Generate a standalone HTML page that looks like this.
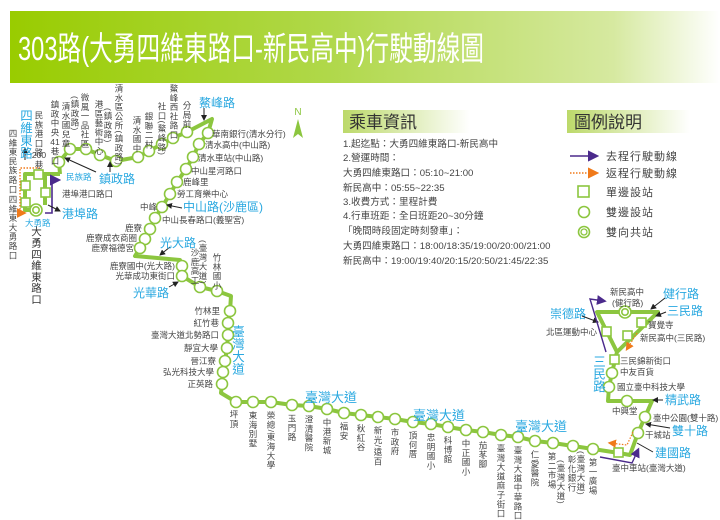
<!DOCTYPE html>
<html><head><meta charset="utf-8">
<style>
html,body{margin:0;padding:0;background:#fff;}
svg{display:block;font-family:"Liberation Sans","Noto Sans CJK TC",sans-serif;}
.s{font-size:8.5px;fill:#444;}
.v{writing-mode:vertical-rl;font-size:8.5px;fill:#444;letter-spacing:0.8px;}
.b{font-size:12px;fill:#29a8e0;}
.bv{writing-mode:vertical-rl;font-size:12.5px;fill:#29a8e0;}
.i{font-size:9.6px;fill:#444;}
.l{font-size:11px;fill:#444;letter-spacing:1px;}
</style></head><body>
<svg width="720" height="520" viewBox="0 0 720 520" xmlns="http://www.w3.org/2000/svg">
<defs>
<linearGradient id="hg" x1="0" x2="1"><stop offset="0" stop-color="#99cc00"/><stop offset="0.45" stop-color="#b0d84a"/><stop offset="0.85" stop-color="#d6e9a0"/><stop offset="1" stop-color="#fff"/></linearGradient>
<linearGradient id="bg2" x1="0" x2="1"><stop offset="0" stop-color="#bcd96a"/><stop offset="1" stop-color="#fff"/></linearGradient>
<marker id="ak" markerWidth="6" markerHeight="6" refX="5" refY="3" orient="auto"><path d="M0,0L6,3L0,6z" fill="#222"/></marker>
<marker id="ap" markerWidth="7" markerHeight="7" refX="5" refY="3.5" orient="auto"><path d="M0,0L7,3.5L0,7z" fill="#4b2a8c"/></marker>
<marker id="ao" markerWidth="7" markerHeight="7" refX="5" refY="3.5" orient="auto"><path d="M0,0L7,3.5L0,7z" fill="#f07a1a"/></marker>
</defs>
<rect x="0" y="0" width="720" height="520" fill="#fff"/>
<rect x="10" y="11" width="710" height="72" fill="url(#hg)"/>
<text x="18" y="60" font-size="33" fill="#fff" textLength="466" lengthAdjust="spacingAndGlyphs">303路(大勇四維東路口-新民高中)行駛動線圖</text>

<text x="298" y="115" font-size="10" fill="#8cc63f" text-anchor="middle">N</text>
<path d="M298,119 L303,138 L298,134 L293,138z" fill="#8cc63f"/>

<rect x="343" y="110" width="127" height="23" fill="url(#bg2)"/>
<text x="349" y="128" font-size="17" fill="#333">乘車資訊</text>
<text class="i" x="343" y="147">1.起迄點：大勇四維東路口-新民高中</text>
<text class="i" x="343" y="161">2.營運時間：</text>
<text class="i" x="343" y="176">大勇四維東路口：05:10~21:00</text>
<text class="i" x="343" y="191">新民高中：05:55~22:35</text>
<text class="i" x="343" y="205">3.收費方式：里程計費</text>
<text class="i" x="343" y="219">4.行車班距：全日班距20~30分鐘</text>
<text class="i" x="343" y="234">「晚間時段固定時刻發車」：</text>
<text class="i" x="343" y="249">大勇四維東路口：18:00/18:35/19:00/20:00/21:00</text>
<text class="i" x="343" y="264">新民高中：19:00/19:40/20:15/20:50/21:45/22:35</text>

<rect x="567" y="110" width="123" height="23" fill="url(#bg2)"/>
<text x="574" y="128" font-size="17" fill="#333">圖例說明</text>
<line x1="570" y1="156" x2="596" y2="156" stroke="#4b2a8c" stroke-width="1.6" marker-end="url(#ap)"/>
<text class="l" x="606" y="160">去程行駛動線</text>
<line x1="570" y1="173" x2="596" y2="173" stroke="#f07a1a" stroke-width="1.6" stroke-dasharray="1.5,1.5" marker-end="url(#ao)"/>
<text class="l" x="606" y="177">返程行駛動線</text>
<rect x="578" y="186" width="11" height="11" fill="#fff" stroke="#8cc63f" stroke-width="1.6"/>
<text class="l" x="606" y="196">單邊設站</text>
<circle cx="584" cy="212" r="5.5" fill="#fff" stroke="#8cc63f" stroke-width="1.6"/>
<text class="l" x="606" y="216">雙邊設站</text>
<circle cx="584" cy="232" r="5.5" fill="#fff" stroke="#8cc63f" stroke-width="1.6"/>
<circle cx="584" cy="232" r="3" fill="#fff" stroke="#8cc63f" stroke-width="1.3"/>
<text class="l" x="606" y="236">雙向共站</text>

<g fill="none" stroke="#8cc63f" stroke-width="4" stroke-linejoin="round">
<path d="M36,210 L25,210 L25,174 L60,174 M45,174 L45,205 M60,174 L59,162"/>
<polyline points="59,162 70,149 86,149 100,155 116,161 138,157 149,151 162,144 173,138 187,132 212,119 208,133 199,144 193,157 186,169 177,182 170,194 162,207 155,218 150,229 145,239 140,248 135,256 180,260 182,266 182,276 200,287 217,291 231,296 230,311 228,323 228,335 227,348 225,361 223,372 222,384 221,393 236,402 253,402 271,402 292,405 309,406 327,409 344,413 361,415 378,417 395,419 413,422 431,424 448,427 466,430 483,432 501,435 518,437 535,441 553,443 573,446 593,449 619,453 630,455 638,433 645,417 652,401 608,401 609,387 612,373 615,360 617,352 597,312 658,312 617,352"/>
</g>

<g fill="#fff" stroke="#8cc63f" stroke-width="1.6">
<circle cx="59" cy="162" r="5.5"/><circle cx="70" cy="149" r="5.5"/><circle cx="86" cy="149" r="5.5"/><circle cx="100" cy="155" r="5.5"/><circle cx="116" cy="161" r="5.5"/><circle cx="138" cy="157" r="5.5"/><circle cx="149" cy="151" r="5.5"/><circle cx="162" cy="144" r="5.5"/><circle cx="173" cy="138" r="5.5"/><circle cx="187" cy="132" r="5.5"/>
<circle cx="208" cy="133" r="5.5"/><circle cx="199" cy="144" r="5.5"/><circle cx="193" cy="157" r="5.5"/><circle cx="186" cy="169" r="5.5"/><circle cx="177" cy="182" r="5.5"/><circle cx="170" cy="194" r="5.5"/><circle cx="162" cy="207" r="5.5"/><circle cx="155" cy="218" r="5.5"/><circle cx="150" cy="229" r="5.5"/><circle cx="145" cy="239" r="5.5"/><circle cx="140" cy="248" r="5.5"/>
<circle cx="182" cy="266" r="5.5"/><circle cx="182" cy="276" r="5.5"/><circle cx="200" cy="287" r="5.5"/><circle cx="217" cy="291" r="5.5"/>
<circle cx="230" cy="311" r="5.5"/><circle cx="228" cy="323" r="5.5"/><circle cx="228" cy="335" r="5.5"/><circle cx="227" cy="348" r="5.5"/><circle cx="225" cy="361" r="5.5"/><circle cx="223" cy="372" r="5.5"/><circle cx="222" cy="384" r="5.5"/>
<circle cx="236" cy="402" r="5.5"/><circle cx="253" cy="402" r="5.5"/><circle cx="271" cy="402" r="5.5"/><circle cx="292" cy="405" r="5.5"/><circle cx="309" cy="406" r="5.5"/><circle cx="327" cy="409" r="5.5"/><circle cx="344" cy="413" r="5.5"/><circle cx="361" cy="415" r="5.5"/><circle cx="378" cy="417" r="5.5"/><circle cx="395" cy="419" r="5.5"/><circle cx="413" cy="422" r="5.5"/><circle cx="431" cy="424" r="5.5"/><circle cx="448" cy="427" r="5.5"/><circle cx="466" cy="430" r="5.5"/><circle cx="483" cy="432" r="5.5"/><circle cx="501" cy="435" r="5.5"/><circle cx="518" cy="437" r="5.5"/><circle cx="535" cy="441" r="5.5"/><circle cx="553" cy="443" r="5.5"/><circle cx="573" cy="446" r="5.5"/><circle cx="593" cy="449" r="5.5"/>
<circle cx="638" cy="433" r="5.5"/><circle cx="645" cy="417" r="5.5"/><circle cx="627" cy="401" r="5.5"/><circle cx="609" cy="387" r="5.5"/><circle cx="612" cy="373" r="5.5"/>
<circle cx="36" cy="210" r="6"/><circle cx="36" cy="210" r="3.2"/>
<circle cx="625" cy="312" r="6"/><circle cx="625" cy="312" r="3.2"/>
<rect x="21" y="181" width="9" height="9"/><rect x="21" y="198" width="9" height="9"/><rect x="34" y="170" width="9" height="9"/><rect x="41" y="188" width="9" height="9"/>
<rect x="602" y="327" width="9" height="9"/><rect x="637" y="318" width="9" height="9"/><rect x="623" y="331" width="9" height="9"/><rect x="610" y="355" width="9" height="9"/><rect x="614" y="448" width="9" height="9"/>
</g>

<polyline points="40,168 20,168 20,213 24,213" fill="none" stroke="#f07a1a" stroke-width="1.4" stroke-dasharray="1.5,1.5" marker-end="url(#ao)"/>
<polyline points="45,213 52,213 52,180 58,180" fill="none" stroke="#4b2a8c" stroke-width="1.6" marker-end="url(#ap)"/>
<line x1="25" y1="160" x2="25" y2="148" stroke="#222" stroke-width="1" marker-end="url(#ak)"/>
<line x1="48" y1="205" x2="60" y2="211" stroke="#222" stroke-width="1" marker-end="url(#ak)"/>
<line x1="96" y1="172" x2="65" y2="158" stroke="#222" stroke-width="1" marker-end="url(#ak)"/>
<line x1="110" y1="172" x2="110" y2="162" stroke="#222" stroke-width="1" marker-end="url(#ak)"/>
<line x1="204" y1="108" x2="204" y2="120" stroke="#222" stroke-width="1" marker-end="url(#ak)"/>
<line x1="182" y1="208" x2="167" y2="205" stroke="#222" stroke-width="1" marker-end="url(#ak)"/>
<line x1="170" y1="247" x2="160" y2="255" stroke="#222" stroke-width="1" marker-end="url(#ak)"/>
<line x1="169" y1="287" x2="178" y2="282" stroke="#222" stroke-width="1" marker-end="url(#ak)"/>

<text class="v" x="13" y="129">四維東民族路口</text>
<text class="v" x="13" y="195">四維東大勇路口</text>
<text class="bv" x="25" y="109">四維東路</text>
<text class="v" x="39" y="111">民族港口路</text>
<text class="s" x="39" y="158" text-anchor="middle">200</text>
<text class="s" x="39" y="168" text-anchor="middle">巷</text>
<text class="v" x="55" y="100">鎮政中央</text>
<text class="s" x="55" y="145" text-anchor="middle">41</text>
<text class="v" x="55" y="147">巷口</text>
<text class="v" x="66" y="102">清水國兒童</text>
<text class="v" x="75" y="96">(鎮政路)</text>
<text class="v" x="85" y="93">微風一品社區</text>
<text class="v" x="99" y="100">港區藝術中心</text>
<text class="v" x="108" y="108">(鎮政路)</text>
<text class="v" x="119" y="84">清水區公所(鎮政路)</text>
<text class="v" x="137" y="116">清水國中</text>
<text class="v" x="149" y="112">銀聯二村</text>
<text class="v" x="162" y="102">社口(鰲峰路)</text>
<text class="v" x="174" y="84">鰲峰西社路口</text>
<text class="v" x="187" y="101">分局前</text>
<text class="b" x="199" y="107">鰲峰路</text>
<text class="s" x="66" y="180" style="fill:#29a8e0">民族路</text>
<text class="s" x="62" y="197">港埠港口路口</text>
<text class="b" x="62" y="218">港埠路</text>
<text class="b" x="99" y="183">鎮政路</text>
<text class="s" x="25" y="226" style="fill:#29a8e0">大勇路</text>
<text class="v" x="36" y="226" style="font-size:10.5px;fill:#333">大勇四維東路口</text>

<text class="s" x="212" y="137">華南銀行(清水分行)</text>
<text class="s" x="205" y="148">清水高中(中山路)</text>
<text class="s" x="198" y="161">清水車站(中山路)</text>
<text class="s" x="191" y="174">中山星河路口</text>
<text class="s" x="183" y="185">鹿峰里</text>
<text class="s" x="177" y="197">勞工育樂中心</text>
<text class="s" x="157" y="210" text-anchor="end">中峰</text>
<text class="b" x="183" y="211">中山路(沙鹿區)</text>
<text class="s" x="162" y="223">中山長春路口(義聖宮)</text>
<text class="s" x="142" y="231" text-anchor="end">鹿寮</text>
<text class="s" x="137" y="241" text-anchor="end">鹿寮成衣商圈</text>
<text class="s" x="134" y="251" text-anchor="end">鹿寮福德宮</text>
<text class="b" x="160" y="247">光大路</text>
<text class="s" x="175" y="269" text-anchor="end">鹿寮國中(光大路)</text>
<text class="s" x="175" y="279" text-anchor="end">光華成功東街口</text>
<text class="b" x="133" y="297">光華路</text>
<text class="v" x="195" y="248">沙鹿高工</text>
<text class="v" x="203" y="240">(臺灣大道)</text>
<text class="v" x="217" y="253">竹林國小</text>

<text class="s" x="220" y="314" text-anchor="end">竹林里</text>
<text class="s" x="219" y="326" text-anchor="end">紅竹巷</text>
<text class="s" x="219" y="338" text-anchor="end">臺灣大道北勢路口</text>
<text class="s" x="218" y="351" text-anchor="end">靜宜大學</text>
<text class="s" x="216" y="364" text-anchor="end">晉江寮</text>
<text class="s" x="214" y="375" text-anchor="end">弘光科技大學</text>
<text class="s" x="213" y="387" text-anchor="end">正英路</text>
<text class="bv" x="237" y="325">臺灣大道</text>

<text class="v" x="234" y="410">坪頂</text>
<text class="v" x="253" y="411">東海別墅</text>
<text class="v" x="271" y="411">榮總/東海大學</text>
<text class="v" x="292" y="414">玉門路</text>
<text class="v" x="309" y="415">澄清醫院</text>
<text class="v" x="327" y="418">中港新城</text>
<text class="v" x="344" y="422">福安</text>
<text class="v" x="361" y="424">秋紅谷</text>
<text class="v" x="378" y="426">新光/遠百</text>
<text class="v" x="395" y="428">市政府</text>
<text class="v" x="413" y="431">頂何厝</text>
<text class="v" x="431" y="433">忠明國小</text>
<text class="v" x="448" y="436">科博館</text>
<text class="v" x="466" y="439">中正國小</text>
<text class="v" x="483" y="441">茄苳腳</text>
<text class="v" x="501" y="444">臺灣大道麻子街口</text>
<text class="v" x="518" y="446">臺灣大道中華路口</text>
<text class="v" x="535" y="450">仁愛醫院</text>
<text class="v" x="552" y="452">第二市場</text>
<text class="v" x="561" y="460">(臺灣大道)</text>
<text class="v" x="572" y="455">彰化銀行</text>
<text class="v" x="581" y="451">(臺灣大道)</text>
<text class="v" x="593" y="458">第一廣場</text>
<text class="b" x="305" y="402" style="font-size:13px">臺灣大道</text>
<text class="b" x="413" y="420" style="font-size:13px">臺灣大道</text>
<text class="b" x="515" y="431" style="font-size:13px">臺灣大道</text>

<text class="s" x="610" y="295">新民高中</text>
<text class="s" x="612" y="306">(健行路)</text>
<text class="b" x="663" y="298">健行路</text>
<text class="b" x="667" y="315">三民路</text>
<text class="b" x="550" y="318">崇德路</text>
<text class="s" x="648" y="328">寶覺寺</text>
<text class="s" x="597" y="335" text-anchor="end">北區運動中心</text>
<text class="s" x="640" y="341">新民高中(三民路)</text>
<text class="bv" x="598" y="355">三民路</text>
<text class="s" x="620" y="364">三民錦新街口</text>
<text class="s" x="620" y="375">中友百貨</text>
<text class="s" x="617" y="390">國立臺中科技大學</text>
<text class="s" x="612" y="414">中興堂</text>
<text class="b" x="665" y="404">精武路</text>
<text class="s" x="653" y="421">臺中公園(雙十路)</text>
<text class="b" x="672" y="435">雙十路</text>
<text class="s" x="645" y="438">干城站</text>
<text class="b" x="655" y="457">建國路</text>
<text class="s" x="612" y="471">臺中車站(臺灣大道)</text>

<line x1="665" y1="298" x2="651" y2="309" stroke="#222" stroke-width="1" marker-end="url(#ak)"/>
<line x1="666" y1="312" x2="656" y2="316" stroke="#222" stroke-width="1" marker-end="url(#ak)"/>
<line x1="582" y1="316" x2="598" y2="322" stroke="#222" stroke-width="1" marker-end="url(#ak)"/>
<line x1="663" y1="400" x2="653" y2="400" stroke="#222" stroke-width="1" marker-end="url(#ak)"/>
<line x1="670" y1="428" x2="646" y2="424" stroke="#222" stroke-width="1" marker-end="url(#ak)"/>
<line x1="653" y1="452" x2="637" y2="443" stroke="#222" stroke-width="1"/>
<polyline points="606,352 590,299 604,301" fill="none" stroke="#4b2a8c" stroke-width="1.4" marker-end="url(#ap)"/>
<polyline points="600,457 632,463 638,450" fill="none" stroke="#4b2a8c" stroke-width="1.4" marker-end="url(#ap)"/>
<line x1="637" y1="333" x2="627" y2="349" stroke="#f07a1a" stroke-width="1.2" stroke-dasharray="1.5,1.5" marker-end="url(#ao)"/>
<polyline points="633,432 627,445 610,443" fill="none" stroke="#f07a1a" stroke-width="1.2" stroke-dasharray="1.5,1.5" marker-end="url(#ao)"/>
</svg>
</body></html>
